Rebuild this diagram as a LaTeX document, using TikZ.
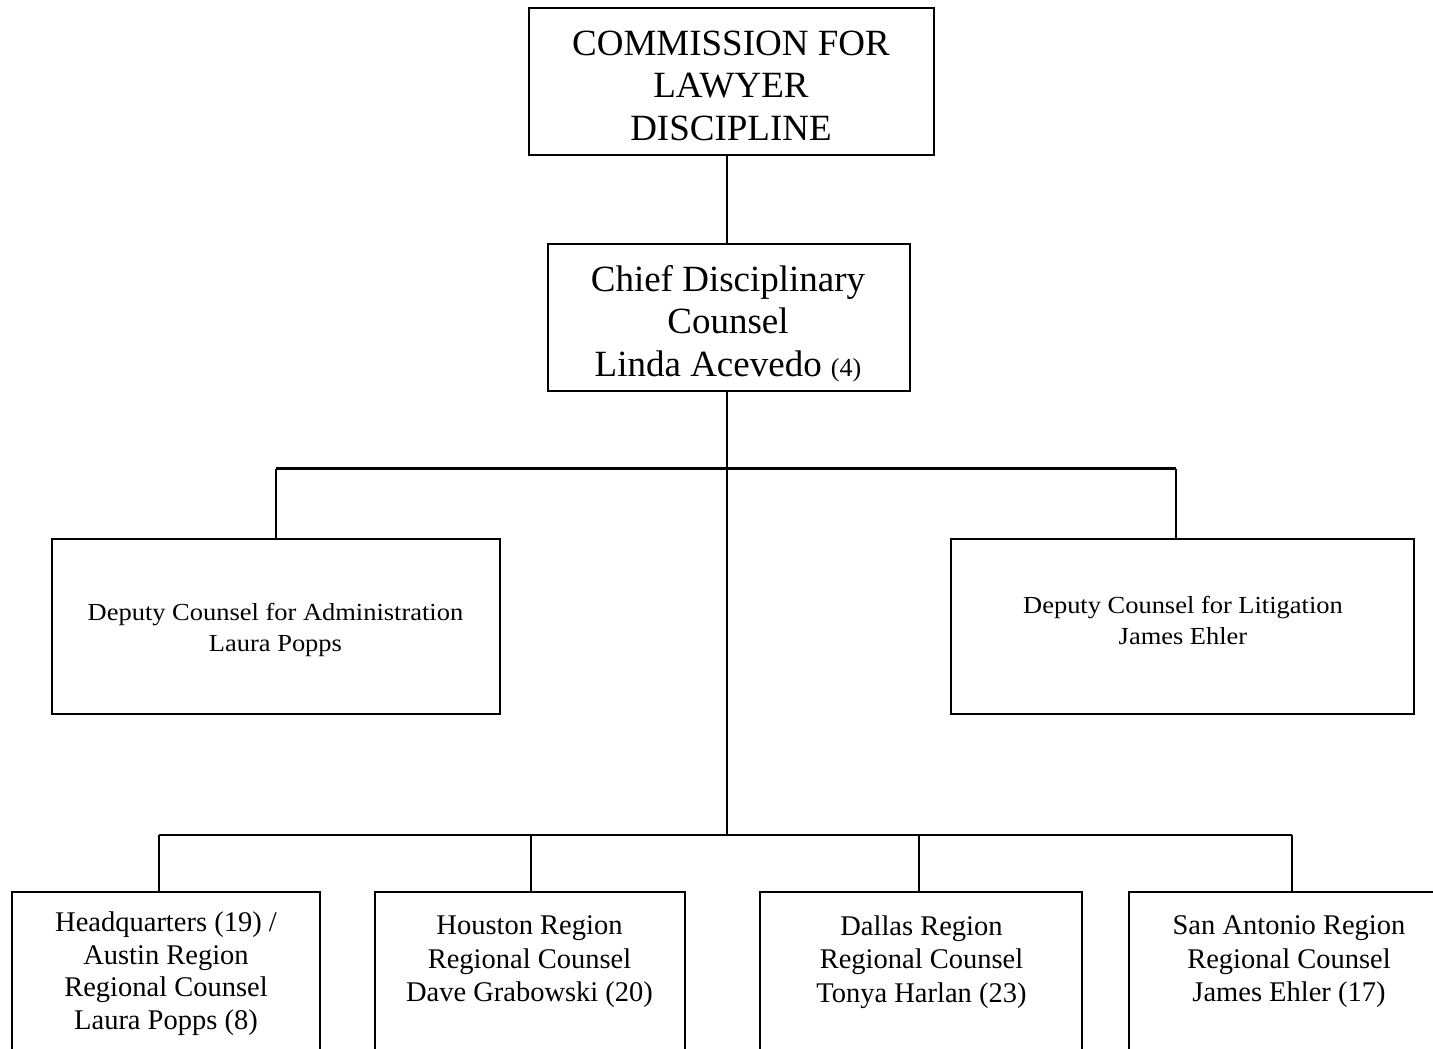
\documentclass[tikz,border=0pt]{standalone}
\usepackage{fontspec}
\setmainfont{Liberation Serif}
\newfontfamily\widefont[FakeStretch=1.08]{Liberation Serif}
\begin{document}
\begin{tikzpicture}[x=1pt,y=-1pt,
  box/.style={draw=black,line width=2.3pt,rectangle,inner sep=0pt,outer sep=0pt},
  conn/.style={draw=black,line width=2.3pt},
  txt/.style={inner sep=0pt,align=center,anchor=north},
  bigtxt/.style={txt,font=\fontsize{37}{42.5}\selectfont},
  midtxt/.style={txt,font=\widefont\fontsize{24.5}{31}\selectfont},
  regtxt/.style={txt,font=\fontsize{28.5}{32.7}\selectfont},
  regtxtb/.style={txt,font=\fontsize{28.5}{33.5}\selectfont}]
\clip (0,0) rectangle (1433,1049);
\fill[white] (0,0) rectangle (1433,1049);
% boxes
\node[box,minimum width=405pt,minimum height=147pt] (top) at (731.5,81.5) {};
\node[box,minimum width=362pt,minimum height=147pt] (chief) at (729,317.5) {};
\node[box,minimum width=448pt,minimum height=175pt] (dadmin) at (276,626.5) {};
\node[box,minimum width=463pt,minimum height=175pt] (dlit) at (1182.5,626.5) {};
\node[box,minimum width=308pt,minimum height=200pt] (hq) at (166,992) {};
\node[box,minimum width=310pt,minimum height=200pt] (hou) at (530,992) {};
\node[box,minimum width=322pt,minimum height=200pt] (dal) at (921,992) {};
\node[box,minimum width=340pt,minimum height=200pt] (sa) at (1299,992) {};
% texts
\node[bigtxt] (topt) at (731,30.5) {COMMISSION FOR\\LAWYER\\DISCIPLINE};
\node[bigtxt] (chieft) at (728,265) {Chief Disciplinary\\Counsel\\Linda Acevedo {\fontsize{26}{26}\selectfont(4)}};
\node[midtxt] (admint) at (275.5,603) {Deputy Counsel for Administration\\Laura Popps};
\node[midtxt] (litt) at (1183,596) {Deputy Counsel for Litigation\\James Ehler};
\node[regtxt] (hqt) at (166,911.5) {Headquarters (19) /\\Austin Region\\Regional Counsel\\Laura Popps (8)};
\node[regtxtb] (hout) at (529.5,915.5) {Houston Region\\Regional Counsel\\Dave Grabowski (20)};
\node[regtxtb] (dalt) at (921.5,915.5) {Dallas Region\\Regional Counsel\\Tonya Harlan (23)};
\node[regtxtb] (sat) at (1289,915.5) {San Antonio Region\\Regional Counsel\\James Ehler (17)};
% junctions
\coordinate (j0) at (727,468.5);
\coordinate (ja) at (276,468.5);
\coordinate (jb) at (1176,468.5);
\coordinate (k0) at (727,835);
\coordinate (k1) at (159,835);
\coordinate (k2) at (531,835);
\coordinate (k3) at (919,835);
\coordinate (k4) at (1292,835);
% connectors
\draw[conn] (top.south -| k0) -- (chief.north -| k0);
\draw[conn] (chief.south -| k0) -- (k0);
\draw[conn] (ja) -- (jb);
\draw[conn] (ja) -- (dadmin.north -| ja);
\draw[conn] (jb) -- (dlit.north -| jb);
\draw[conn] (k1) -- (k4);
\draw[conn] (k1) -- (hq.north -| k1);
\draw[conn] (k2) -- (hou.north -| k2);
\draw[conn] (k3) -- (dal.north -| k3);
\draw[conn] (k4) -- (sa.north -| k4);
\end{tikzpicture}
\end{document}
